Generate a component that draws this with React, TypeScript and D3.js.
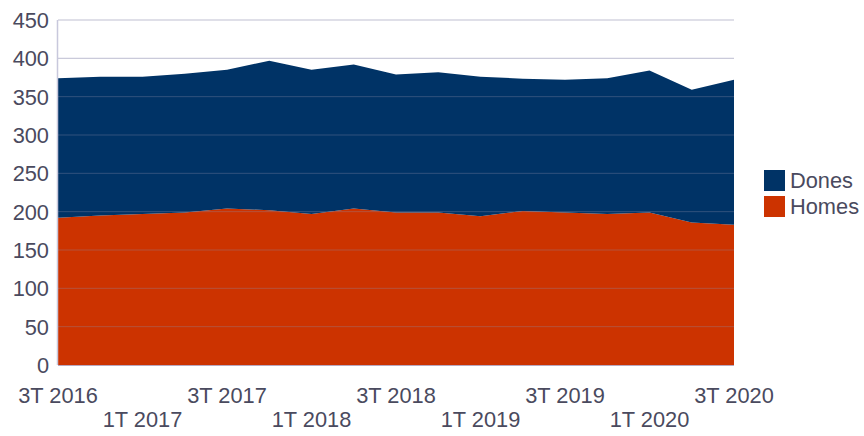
import React from "react";
import * as d3 from "d3";

const categories = [
  "3T 2016", "4T 2016", "1T 2017", "2T 2017", "3T 2017", "4T 2017",
  "1T 2018", "2T 2018", "3T 2018", "4T 2018", "1T 2019", "2T 2019",
  "3T 2019", "4T 2019", "1T 2020", "2T 2020", "3T 2020",
];
const homes = [192, 195, 197, 199, 204, 202, 197, 204, 199, 199, 194, 201, 199, 197, 199, 186, 183];
const dones = [182, 181, 179, 181, 181, 195, 188, 188, 180, 183, 182, 172.5, 173, 177, 185, 173, 189];
const seriesNames = ["Homes", "Dones"];
const seriesColors = ["#cc3300", "#003366"];
const yTicks = [0, 50, 100, 150, 200, 250, 300, 350, 400, 450];

const W = 864, H = 436;
const left = 58, right = 734, top = 20, bottom = 365;
const font = "'Liberation Sans', Arial, sans-serif";
const textColor = "#4a4a5e";
const fs = 21.8;

export default function App() {
  const x = d3.scaleLinear().domain([0, categories.length - 1]).range([left, right]);
  const y = d3.scaleLinear().domain([0, 450]).range([bottom, top]);
  const rows = categories.map((c, i) => ({ i, Homes: homes[i], Dones: dones[i] }));
  const stack = d3.stack<any>().keys(seriesNames)(rows);
  const area = d3.area<any>()
    .x((d) => x(d.data.i))
    .y0((d) => y(d[0]))
    .y1((d) => y(d[1]));

  return (
    <svg width={W} height={H} style={{ position: "absolute", left: 0, top: 0 }}>
      {yTicks.map((t) => (
        <line key={"g" + t} x1={left} x2={right} y1={y(t)} y2={y(t)} stroke="#e4e4ee" strokeWidth={1.2} />
      ))}
      {stack.map((s, k) => (
        <path key={s.key} d={area(s) || ""} fill={seriesColors[k]} />
      ))}
      {yTicks.slice(1).map((t) => (
        <line key={"o" + t} x1={left} x2={right} y1={y(t)} y2={y(t)} stroke="rgba(140,140,170,0.35)" strokeWidth={1} />
      ))}
      <line x1={left - 0.5} x2={left - 0.5} y1={top} y2={bottom} stroke="#c8c8dc" strokeWidth={1.5} />
      <line x1={left} x2={right} y1={bottom + 0.5} y2={bottom + 0.5} stroke="#b8a8c0" strokeWidth={1} />
      {yTicks.map((t) => (
        <text key={"y" + t} x={left - 9} y={y(t)} dy="0.36em" textAnchor="end" fontFamily={font} fontSize={fs} fill={textColor}>
          {t}
        </text>
      ))}
      {categories.map((c, i) =>
        i % 2 === 0 ? (
          <text key={"x" + i} x={x(i)} y={i % 4 === 0 ? 403 : 427} textAnchor="middle" fontFamily={font} fontSize={fs} fill={textColor}>
            {c}
          </text>
        ) : null
      )}
      {["Dones", "Homes"].map((n, k) => (
        <g key={n} transform={`translate(764, ${170 + k * 26})`}>
          <rect width={21} height={21} fill={seriesColors[seriesNames.indexOf(n)]} />
          <text x={26} y={18} fontFamily={font} fontSize={fs} fill={textColor}>{n}</text>
        </g>
      ))}
    </svg>
  );
}
